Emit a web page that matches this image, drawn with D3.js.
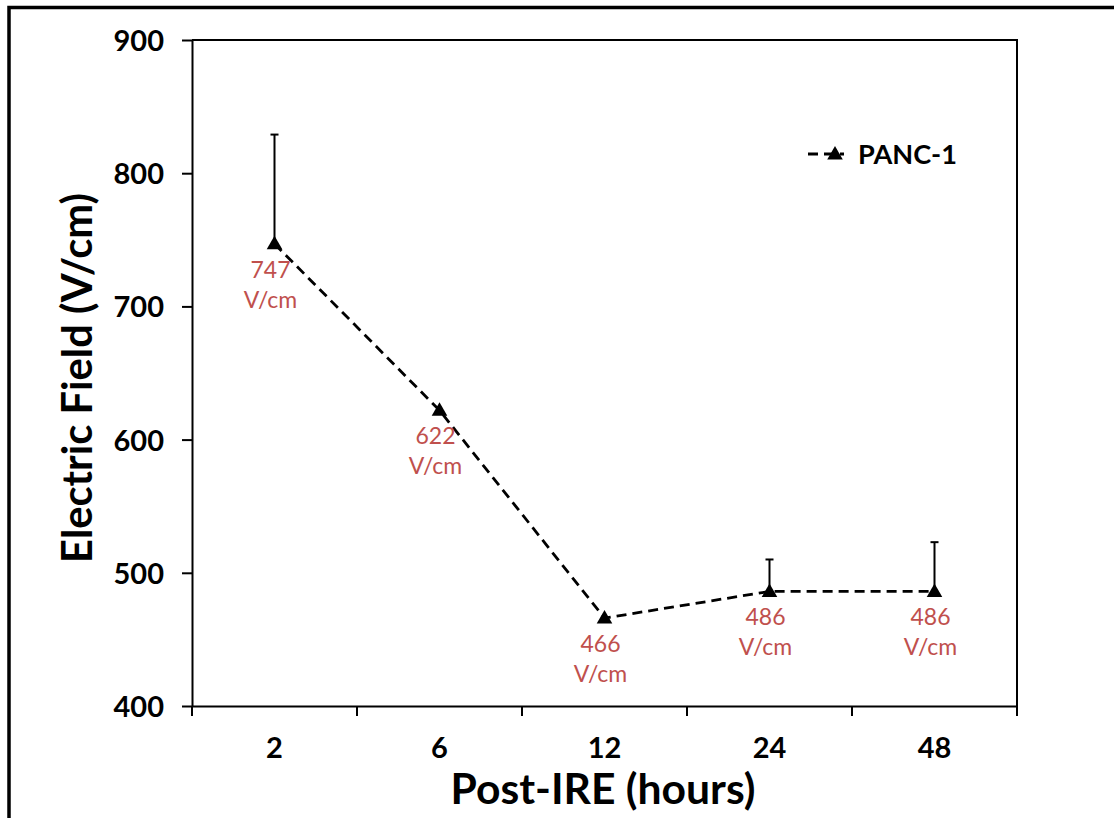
<!DOCTYPE html>
<html>
<head>
<meta charset="utf-8">
<script src="https://cdn.jsdelivr.net/npm/d3@7"></script>
<style>
  html, body { margin: 0; padding: 0; background: #fff; }
  svg { display: block; }
  text { font-family: "Lato", "Open Sans", "DejaVu Sans", sans-serif; }
</style>
</head>
<body>
<svg id="chart" width="1114" height="818"></svg>
<script>
// Time points after IRE treatment (hours)
const categories = ["2", "6", "12", "24", "48"];
// Mean threshold electric field (V/cm)
const fieldValues = [747, 622, 466, 486, 486];
// Upper end of the error bars (V/cm); null where no bar is shown
const errorUpper = [829, null, null, 510, 523];
// Y-axis tick values
const yTicks = [400, 500, 600, 700, 800, 900];
const seriesName = "PANC-1";

const svg = d3.select("#chart");
const W = 1114, H = 818;
const margin = { left: 192, right: W - 1017, top: 40, bottom: H - 706 };

const x = d3.scaleBand()
  .domain(categories)
  .range([margin.left, W - margin.right])
  .paddingInner(0).paddingOuter(0);

const y = d3.scaleLinear()
  .domain([400, 900])
  .range([H - margin.bottom, margin.top]);

// Outer frame (runs off the right and bottom edges)
svg.append("rect")
  .attr("x", 9).attr("y", 7.5)
  .attr("width", 1300).attr("height", 1000)
  .attr("fill", "none").attr("stroke", "#000").attr("stroke-width", 3.5);

// Plot-area box: top and right edges
const x0 = margin.left, x1 = W - margin.right, yTop = margin.top, yBot = H - margin.bottom;
svg.append("path")
  .attr("d", `M${x0},${yTop}H${x1}V${yBot}`)
  .attr("fill", "none").attr("stroke", "#000").attr("stroke-width", 2);

// Y axis
const yAxis = svg.append("g")
  .attr("transform", `translate(${x0},0)`)
  .call(d3.axisLeft(y).tickValues(yTicks).tickSize(10).tickSizeOuter(0).tickPadding(18));
yAxis.select(".domain").attr("stroke-width", 2);
yAxis.selectAll(".tick line").attr("stroke-width", 2);
yAxis.selectAll(".tick text")
  .attr("font-size", 29).attr("font-weight", 700).attr("fill", "#000")
  .attr("dy", "0.36em");

// X axis: ticks sit on the category boundaries
const xAxis = svg.append("g")
  .attr("transform", `translate(0,${yBot})`)
  .call(d3.axisBottom(x).tickSize(0).tickSizeOuter(0).tickPadding(0));
xAxis.select(".domain").attr("stroke-width", 2);
xAxis.selectAll(".tick text")
  .attr("y", 52).attr("dy", null)
  .attr("font-size", 29).attr("font-weight", 700).attr("fill", "#000");
const bounds = [x0].concat(categories.map(c => x(c) + x.bandwidth()));
xAxis.selectAll(".bound")
  .data(bounds).enter().append("line")
  .attr("class", "bound")
  .attr("x1", d => d).attr("x2", d => d)
  .attr("y1", 0).attr("y2", 10)
  .attr("stroke", "#000").attr("stroke-width", 2);

// Axis titles, sized to a target width
function fitText(sel, target, start) {
  let fs = start;
  sel.attr("font-size", fs);
  const w = sel.node().getComputedTextLength();
  fs = fs * target / w;
  sel.attr("font-size", fs);
}
const yTitle = svg.append("text")
  .attr("transform", `translate(92,${(yTop + yBot) / 2 + 5}) rotate(-90)`)
  .attr("text-anchor", "middle")
  .attr("font-weight", 700).attr("fill", "#000")
  .text("Electric Field (V/cm)");
fitText(yTitle, 370, 36);

const xTitle = svg.append("text")
  .attr("x", 603).attr("y", 804)
  .attr("text-anchor", "middle")
  .attr("font-weight", 700).attr("fill", "#000")
  .text("Post-IRE (hours)");
fitText(xTitle, 305, 36);

const cx = (d, i) => x(categories[i]) + x.bandwidth() / 2;

// Error bars (upper only)
const eb = svg.append("g");
fieldValues.forEach((v, i) => {
  const u = errorUpper[i];
  if (u == null) return;
  const px = cx(v, i);
  eb.append("line").attr("x1", px).attr("x2", px)
    .attr("y1", y(v)).attr("y2", y(u))
    .attr("stroke", "#000").attr("stroke-width", 2);
  eb.append("line").attr("x1", px - 4).attr("x2", px + 4)
    .attr("y1", y(u)).attr("y2", y(u))
    .attr("stroke", "#000").attr("stroke-width", 2);
});

// Dashed series line
const line = d3.line()
  .x((d, i) => cx(d, i))
  .y(d => y(d));
svg.append("path")
  .datum(fieldValues)
  .attr("d", line)
  .attr("fill", "none").attr("stroke", "#000")
  .attr("stroke-width", 2.8).attr("stroke-dasharray", "10,6");

// Triangle markers
const tri = d3.symbol().type(d3.symbolTriangle).size(105);
svg.selectAll(".marker")
  .data(fieldValues).enter().append("path")
  .attr("class", "marker")
  .attr("d", tri)
  .attr("transform", (d, i) => `translate(${cx(d, i)},${y(d) + 1})`)
  .attr("fill", "#000");

// Data labels
const labels = svg.selectAll(".dlabel")
  .data(fieldValues).enter().append("text")
  .attr("class", "dlabel")
  .attr("text-anchor", "middle")
  .attr("fill", "#C0504D")
  .attr("font-size", 23);
labels.append("tspan")
  .attr("x", (d, i) => cx(d, i) - 4)
  .attr("y", d => y(d) + 34)
  .text(d => d);
labels.append("tspan")
  .attr("x", (d, i) => cx(d, i) - 4)
  .attr("y", d => y(d) + 64)
  .text("V/cm");

// Legend
const lg = svg.append("g").attr("transform", "translate(808,154)");
lg.append("line").attr("x1", 0).attr("x2", 36).attr("y1", 0).attr("y2", 0)
  .attr("stroke", "#000").attr("stroke-width", 2.8).attr("stroke-dasharray", "10,6");
lg.append("path").attr("d", tri).attr("transform", "translate(27,1)").attr("fill", "#000");
const lgText = lg.append("text")
  .attr("x", 50).attr("y", 10)
  .attr("font-weight", 700).attr("fill", "#000")
  .text(seriesName);
fitText(lgText, 99, 26);
</script>
</body>
</html>
